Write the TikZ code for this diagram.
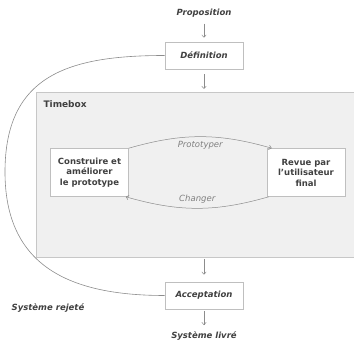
\documentclass[tikz,border=0pt]{standalone}
\usepackage{fontspec}
\setmainfont{DejaVu Sans}
\usetikzlibrary{arrows.meta}

\begin{document}
\begin{tikzpicture}[x=1pt,y=1pt,
		txt/.style={text=black!75,font=\fontsize{8.5}{10.5}\selectfont\bfseries},
		step label/.style={txt,font=\fontsize{8.5}{10.5}\selectfont\bfseries\itshape},
		box/.style={draw=black!25,fill=white,line width=0.6pt,align=center,inner sep=0pt,minimum width=78},
		flow/.style={draw=black!45,line width=0.5pt,-{Straight Barb[length=2.5pt,width=4.5pt]}},
		loop label/.style={text=black!50,font=\fontsize{8.5}{10}\selectfont\itshape},
		reject/.style={draw=black!45,line width=0.6pt}]
			\useasboundingbox (0,0) rectangle (354,-344);

			% timebox: runs out at the right edge
			\fill[black!6] (36,-92) rectangle (354,-257);
			\draw[black!22,line width=0.8pt] (354,-92) -| (36,-257) -- (354,-257);
			\node[txt,anchor=west,font=\fontsize{9}{11}\selectfont\bfseries] (tblabel) at (40,-104) {Timebox};
			\coordinate (tbtop) at (204,-92);
			\coordinate (tbbot) at (204,-257);

			\node[step label] (prop) at (204,-13) {Proposition};
			\node[box,step label,minimum height=27] (def) at (204,-55.5) {D\'efinition};
			\node[box,step label,minimum height=27] (acc) at (204,-295.5) {Acceptation};
			\node[step label] (livre) at (204,-336) {Syst\`eme livr\'e};
			\node[step label] (rejet) at (48,-308) {Syst\`eme rejet\'e};

			\node[box,txt,minimum height=48] (build) at (89.5,-172.5) {Construire et\\am\'eliorer\\le prototype};
			\node[box,txt,minimum height=48] (review) at (306,-172.5) {Revue par\\l'utilisateur\\final};

			\draw[flow,shorten <=3pt,shorten >=4pt] (prop) -- (def);
			\draw[flow,shorten <=5pt,shorten >=3pt] (def) -- (tbtop);
			\draw[flow,shorten <=2pt,shorten >=7pt] (tbbot) -- (acc);
			\draw[flow,shorten <=2pt,shorten >=3pt] (acc) -- (livre);

			\draw[flow] (build.north east) to[bend left=16] node[loop label,below=1pt] (proto) {Prototyper} ([xshift=5pt]review.north west);
			\draw[flow] ([xshift=2pt]review.south west) to[bend left=16] node[loop label,above=1pt] (chg) {Changer} ([xshift=-3pt]build.south east);

			% rejected system goes back to the definition
			\coordinate (far) at (5,-172);
			\draw[reject] (acc.west) to[out=180,in=-90,looseness=1.2] (far) to[out=90,in=180,looseness=1.25] (def.west);
		\end{tikzpicture}
\end{document}
